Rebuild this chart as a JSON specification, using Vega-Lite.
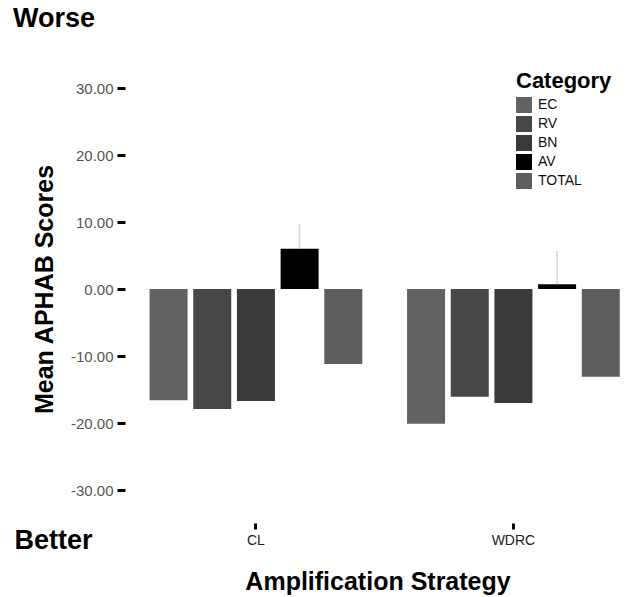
{
  "$schema": "https://vega.github.io/schema/vega-lite/v6.json",
  "width": 505,
  "height": 402,
  "autosize": {"type": "none"},
  "padding": {"left": 125, "top": 88, "right": 0, "bottom": 107},
  "background": "white",
  "config": {"view": {"stroke": null}, "font": "Liberation Sans"},
  "title": {"text": "Worse", "anchor": "start", "frame": "group", "dx": -112, "offset": 38, "fontSize": 27, "fontWeight": "bold", "color": "black"},
  "data": {"values": [
    {"strategy": "CL", "category": "EC", "mean": -16.6},
    {"strategy": "CL", "category": "RV", "mean": -17.9},
    {"strategy": "CL", "category": "BN", "mean": -16.7},
    {"strategy": "CL", "category": "AV", "mean": 6.0, "upper": 9.7},
    {"strategy": "CL", "category": "TOTAL", "mean": -11.2},
    {"strategy": "WDRC", "category": "EC", "mean": -20.1},
    {"strategy": "WDRC", "category": "RV", "mean": -16.1},
    {"strategy": "WDRC", "category": "BN", "mean": -17.0},
    {"strategy": "WDRC", "category": "AV", "mean": 0.7, "upper": 5.8},
    {"strategy": "WDRC", "category": "TOTAL", "mean": -13.1}
  ]},
  "layer": [
    {
      "mark": {"type": "bar"},
      "encoding": {
        "x": {"field": "strategy", "type": "nominal",
          "scale": {"paddingInner": 0.142, "paddingOuter": 0.0516, "align": 0.77},
          "axis": {"title": "Amplification Strategy", "labelAngle": 0, "offset": 33, "tickSize": 6, "tickWidth": 3, "tickColor": "black", "domain": false, "labelFontSize": 14, "labelColor": "#222", "labelPadding": 4, "titleFontSize": 25, "titleFontWeight": "bold", "titlePadding": 22, "titleColor": "black"}},
        "xOffset": {"field": "category", "type": "nominal", "sort": ["EC", "RV", "BN", "AV", "TOTAL"],
          "scale": {"paddingInner": 0.13, "paddingOuter": 0.094}},
        "y": {"field": "mean", "type": "quantitative",
          "scale": {"domain": [-30, 30], "nice": false, "zero": false},
          "axis": {"values": [-30, -20, -10, 0, 10, 20, 30], "format": ".2f", "labelExpr": "replace(datum.label, '\u2212', '-')", "labelFontSize": 15, "labelColor": "#555", "tickSize": 8, "tickWidth": 3, "tickColor": "black", "domain": false, "grid": false, "labelPadding": 4, "title": "Mean APHAB Scores", "titleFontSize": 25, "titleFontWeight": "bold", "titleColor": "black", "titlePadding": 13}},
        "color": {"field": "category", "type": "nominal", "sort": ["EC", "RV", "BN", "AV", "TOTAL"],
          "scale": {"domain": ["EC", "RV", "BN", "AV", "TOTAL"], "range": ["#626262", "#474747", "#3a3a3a", "#000000", "#5e5e5e"]},
          "legend": {"title": "Category", "orient": "none", "legendX": 391, "legendY": -17, "titleFontSize": 22, "titleFontWeight": "bold", "titleColor": "black", "labelFontSize": 14, "labelColor": "#111", "symbolType": "square", "symbolSize": 256, "symbolStrokeWidth": 0, "rowPadding": 3, "labelOffset": 6, "titlePadding": 4}}
      }
    },
    {
      "transform": [{"filter": "isValid(datum.upper)"}],
      "mark": {"type": "rule", "color": "#aaaaaa", "strokeWidth": 1.5, "strokeDash": [1, 1]},
      "encoding": {
        "x": {"field": "strategy", "type": "nominal"},
        "xOffset": {"field": "category", "type": "nominal", "sort": ["EC", "RV", "BN", "AV", "TOTAL"]},
        "y": {"field": "mean", "type": "quantitative",
          "scale": {"domain": [-30, 30], "nice": false, "zero": false},
          "axis": {"orient": "left", "labels": false, "ticks": false, "domain": false, "grid": false, "title": "Better", "titleAngle": 0, "titleFontSize": 27, "titleFontWeight": "bold", "titleColor": "black", "titleAlign": "left", "titleBaseline": "middle", "titleX": -111, "titleY": 452}},
        "y2": {"field": "upper"}
      }
    }
  ],
  "resolve": {"scale": {"y": "independent"}}
}
